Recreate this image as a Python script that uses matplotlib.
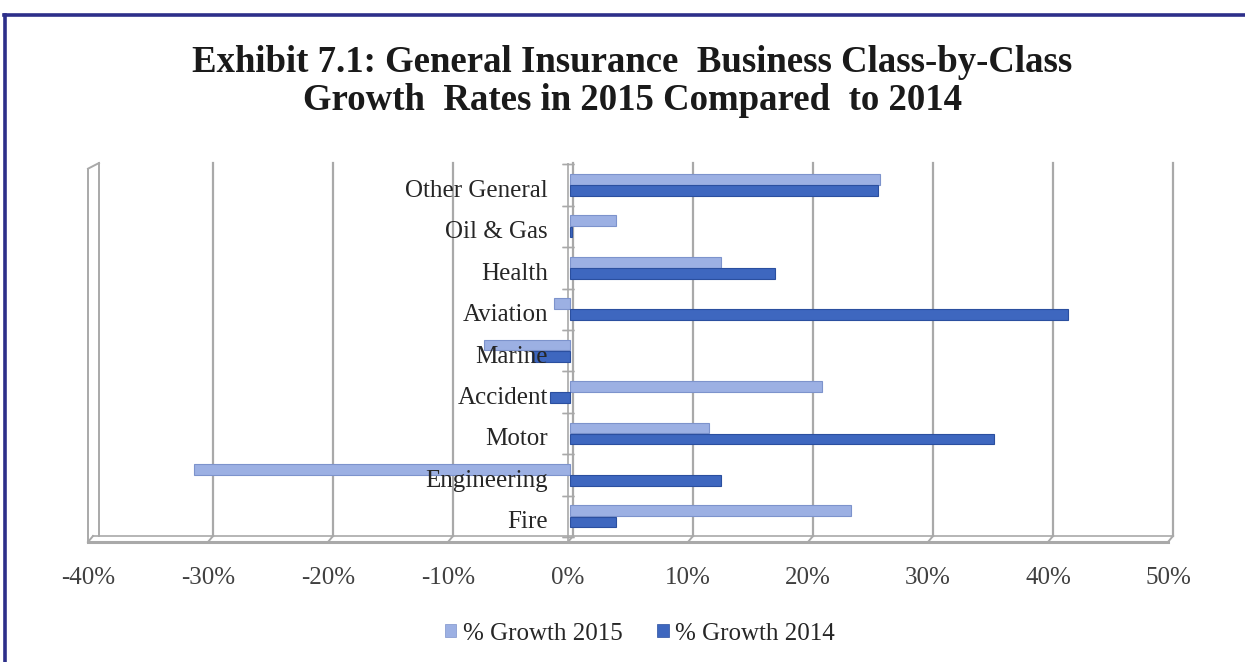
import matplotlib
matplotlib.use("Agg")
import matplotlib.pyplot as plt
from matplotlib.lines import Line2D
from matplotlib.patches import Patch
from matplotlib.transforms import ScaledTranslation, blended_transform_factory

plt.rcParams['font.family'] = 'Liberation Serif'

# Growth rates (%) by class of business
categories = ['Fire', 'Engineering', 'Motor', 'Accident', 'Marine',
              'Aviation', 'Health', 'Oil & Gas', 'Other General']
growth_2015 = [23.4, -31.3, 11.6, 21.0, -7.2, -1.3, 12.6, 3.8, 25.8]
growth_2014 = [3.8, 12.6, 35.3, -1.7, -3.2, 41.5, 17.1, 0.2, 25.7]
x_ticks = [-40, -30, -20, -10, 0, 10, 20, 30, 40, 50]

c15, c15_edge = '#9cb0e3', '#7d93cc'
c14, c14_edge = '#3e67bf', '#2b4f9f'
grid_c = '#a9a9a9'

fig = plt.figure(figsize=(12.45, 6.62), dpi=100)
ax = fig.add_axes([90 / 1245, 120 / 662, 1080 / 1245, 379 / 662])
ax.set_xlim(-40, 50)
ax.set_ylim(-0.62, 8.53)
for s in ax.spines.values():
    s.set_visible(False)
ax.set_yticks([])

px = 0.72 / 72  # one pixel in inches
def shift(dx, dy):
    return ScaledTranslation(dx * px, dy * px, fig.dpi_scale_trans)

xblend = blended_transform_factory(ax.transData, ax.transAxes)
floor_back = 6 / 379

# back wall gridlines and floor
for t in x_ticks[1:]:
    ax.plot([t, t], [floor_back, 1.0], color=grid_c, lw=1.6,
            transform=xblend + shift(3, 0), zorder=1, clip_on=False)
disp = lambda x, y: fig.transFigure.inverted().transform(xblend.transform((x, y)))
for t in x_ticks:
    (x0, y0) = disp(t, floor_back)
    (x1, y1) = disp(t, 0)
    fig.add_artist(Line2D([x0 + 3 / 1245, x1 - 2 / 1245], [y0, y1],
                          color=grid_c, lw=1.4))
ax.plot([-40, 50], [floor_back, floor_back], color=grid_c, lw=1.2,
        transform=xblend + shift(3, 0), clip_on=False)
ax.plot([-40, 50], [0, 0], color=grid_c, lw=2.2,
        transform=xblend + shift(-2, 0), clip_on=False)

# left side wall
ax.plot([-40, -40], [0, 0.985], color=grid_c, lw=1.4,
        transform=xblend + shift(-2, 0), clip_on=False)
ax.plot([-40, -40], [floor_back, 1.0], color=grid_c, lw=1.4,
        transform=xblend + shift(9, 0), clip_on=False)
(a0, b0) = disp(-40, 0.985)
(a1, b1) = disp(-40, 1.0)
fig.add_artist(Line2D([a0 - 2 / 1245, a1 + 9 / 1245], [b0, b1], color=grid_c, lw=1.4))

# bars
ypos = list(range(len(categories)))
h = 0.26
ax.barh([y + 0.135 for y in ypos], growth_2015, height=h, color=c15,
        edgecolor=c15_edge, lw=0.8, zorder=3)
ax.barh([y - 0.135 for y in ypos], growth_2014, height=h, color=c14,
        edgecolor=c14_edge, lw=0.8, zorder=3)

# category axis at zero with ticks between categories
ax.plot([0, 0], [-0.62, 8.53], color=grid_c, lw=1.2, transform=ax.transData + shift(-2, 0), zorder=2)
for b in [y + 0.5 for y in range(-1, len(categories))]:
    ax.plot([0, 0], [b, b], color=grid_c, lw=1.0, zorder=2,
            transform=ax.transData + shift(-2, 0), marker='_', ms=8)

for y, name in zip(ypos, categories):
    ax.text(0, y, name, ha='right', va='center', fontsize=18, color='#262626',
            transform=ax.transData + shift(-22, -6), zorder=5)

ax.set_xticks(x_ticks)
ax.set_xticklabels([f'{t}%' for t in x_ticks], fontsize=18, color='#404040')
ax.tick_params(axis='x', length=0, pad=18)
for lbl in ax.get_xticklabels():
    lbl.set_transform(lbl.get_transform() + shift(-2, 0))

fig.text(0.508, 0.877, 'Exhibit 7.1: General Insurance  Business Class-by-Class\n'
         'Growth  Rates in 2015 Compared  to 2014',
         ha='center', va='center', fontsize=26.5, fontweight='bold',
         color='#1a1a1a', linespacing=1.1)

handles = [Patch(facecolor=c15, edgecolor=c15_edge, lw=0.5, label='% Growth 2015'),
           Patch(facecolor=c14, edgecolor=c14_edge, lw=0.5, label='% Growth 2014')]
fig.legend(handles=handles, loc='center', bbox_to_anchor=(0.514, 0.043), ncol=2,
           frameon=False, fontsize=18, handlelength=0.45, handleheight=0.45,
           handletextpad=0.25, columnspacing=1.4, labelcolor='#262626')

# outer frame
navy = '#2d2f8a'
fig.add_artist(Line2D([4 / 1245, 1], [1 - 15 / 662, 1 - 15 / 662], color=navy, lw=2.6))
fig.add_artist(Line2D([5 / 1245, 5 / 1245], [0, 1 - 15 / 662], color=navy, lw=2.6))

fig.savefig('out.png', dpi=100)
